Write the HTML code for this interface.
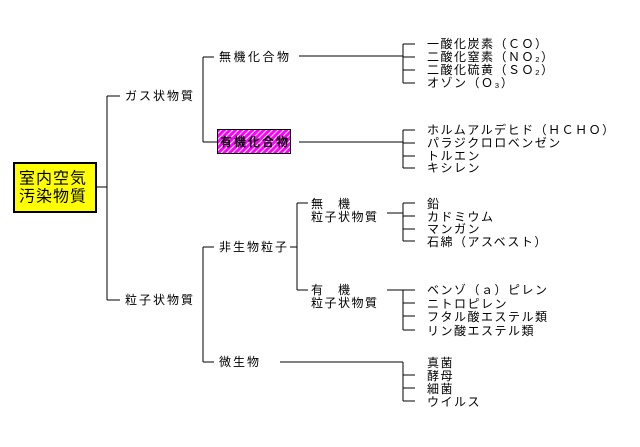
<!DOCTYPE html>
<html><head><meta charset="utf-8"><style>
html,body{margin:0;padding:0;background:#fff;}
svg text{font-family:"Liberation Sans","Noto Sans CJK JP",sans-serif;font-size:12px;fill:#000;letter-spacing:1.5px;dominant-baseline:central;}
</style></head><body>
<svg width="640" height="442" viewBox="0 0 640 442" xmlns="http://www.w3.org/2000/svg">
<defs>
<pattern id="h" width="4" height="4" patternUnits="userSpaceOnUse" patternTransform="rotate(45)">
<rect width="4" height="4" fill="#ff00ff"/><rect width="1" height="4" fill="#fff"/>
</pattern>
</defs>
<g stroke="#000" stroke-width="1" fill="none" shape-rendering="crispEdges">
<line x1="96" y1="187" x2="107" y2="187"/>
<line x1="107" y1="96" x2="107" y2="300"/>
<line x1="107" y1="96" x2="120" y2="96"/>
<line x1="107" y1="300" x2="120" y2="300"/>
<line x1="203" y1="57" x2="203" y2="142"/>
<line x1="203" y1="57" x2="214" y2="57"/>
<line x1="203" y1="142" x2="217" y2="142"/>
<line x1="299" y1="56" x2="403" y2="56"/>
<line x1="403" y1="44" x2="403" y2="83"/>
<line x1="403" y1="44" x2="415" y2="44"/>
<line x1="403" y1="57" x2="415" y2="57"/>
<line x1="403" y1="70" x2="415" y2="70"/>
<line x1="403" y1="83" x2="415" y2="83"/>
<line x1="299" y1="142" x2="403" y2="142"/>
<line x1="403" y1="130" x2="403" y2="168"/>
<line x1="403" y1="130" x2="415" y2="130"/>
<line x1="403" y1="143" x2="415" y2="143"/>
<line x1="403" y1="156" x2="415" y2="156"/>
<line x1="403" y1="168" x2="415" y2="168"/>
<line x1="203" y1="247" x2="203" y2="362"/>
<line x1="203" y1="247" x2="214" y2="247"/>
<line x1="203" y1="362" x2="214" y2="362"/>
<line x1="290" y1="247" x2="297" y2="247"/>
<line x1="297" y1="203" x2="297" y2="290"/>
<line x1="297" y1="203" x2="308" y2="203"/>
<line x1="297" y1="290" x2="308" y2="290"/>
<line x1="387" y1="213" x2="403" y2="213"/>
<line x1="403" y1="203" x2="403" y2="241"/>
<line x1="403" y1="203" x2="415" y2="203"/>
<line x1="403" y1="216" x2="415" y2="216"/>
<line x1="403" y1="229" x2="415" y2="229"/>
<line x1="403" y1="241" x2="415" y2="241"/>
<line x1="387" y1="290" x2="415" y2="290"/>
<line x1="403" y1="290" x2="403" y2="330"/>
<line x1="403" y1="303" x2="415" y2="303"/>
<line x1="403" y1="316" x2="415" y2="316"/>
<line x1="403" y1="330" x2="415" y2="330"/>
<line x1="280" y1="362" x2="403" y2="362"/>
<line x1="403" y1="362" x2="403" y2="401"/>
<line x1="403" y1="375" x2="415" y2="375"/>
<line x1="403" y1="388" x2="415" y2="388"/>
<line x1="403" y1="401" x2="415" y2="401"/>
</g>
<rect x="14" y="163" width="82" height="49" fill="#ffff00" stroke="#000" stroke-width="2"/>
<text x="19" y="179" style="font-size:16px;letter-spacing:1px">室内空気</text>
<text x="19" y="197" style="font-size:16px;letter-spacing:1px">汚染物質</text>
<rect x="217.5" y="129.5" width="73" height="24" fill="url(#h)" stroke="#000" stroke-width="1"/>
<text x="220" y="142" style="font-weight:bold;letter-spacing:2px">有機化合物</text>
<text x="125" y="96" style="letter-spacing:2px">ガス状物質</text>
<text x="219" y="57" style="letter-spacing:2.5px">無機化合物</text>
<text x="427" y="44">一酸化炭素（ＣＯ）</text>
<text x="427" y="57">二酸化窒素（ＮＯ₂）</text>
<text x="427" y="70">二酸化硫黄（ＳＯ₂）</text>
<text x="427" y="83">オゾン（Ｏ₃）</text>
<text x="427" y="130">ホルムアルデヒド（ＨＣＨＯ）</text>
<text x="427" y="143">パラジクロロベンゼン</text>
<text x="427" y="156">トルエン</text>
<text x="427" y="168">キシレン</text>
<text x="125" y="300" style="letter-spacing:2px">粒子状物質</text>
<text x="219" y="247" style="letter-spacing:2px">非生物粒子</text>
<text x="219" y="362" style="letter-spacing:2px">微生物</text>
<text x="311" y="204">無　機</text>
<text x="311" y="217">粒子状物質</text>
<text x="311" y="290">有　機</text>
<text x="311" y="303">粒子状物質</text>
<text x="427" y="204">鉛</text>
<text x="427" y="217">カドミウム</text>
<text x="427" y="229">マンガン</text>
<text x="427" y="242">石綿（アスベスト）</text>
<text x="427" y="290">ベンゾ（ａ）ピレン</text>
<text x="427" y="304">ニトロピレン</text>
<text x="427" y="317">フタル酸エステル類</text>
<text x="427" y="331">リン酸エステル類</text>
<text x="427" y="363">真菌</text>
<text x="427" y="376">酵母</text>
<text x="427" y="389">細菌</text>
<text x="427" y="402">ウイルス</text>
</svg>
</body></html>
